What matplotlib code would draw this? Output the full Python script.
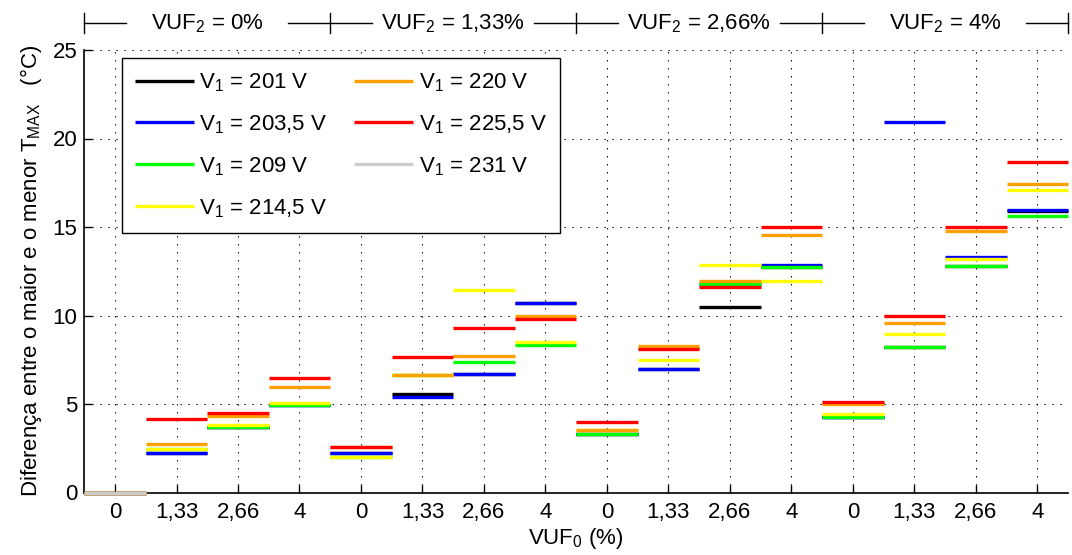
"""Diferença entre o maior e o menor T_MAX para cada combinação de VUF2 e VUF0."""
import matplotlib

matplotlib.use("Agg")
import numpy as np
from matplotlib import pyplot as plt
from matplotlib import transforms

plt.rcParams["font.family"] = ["Liberation Sans", "DejaVu Sans"]
plt.rcParams["mathtext.fontset"] = "custom"
plt.rcParams["mathtext.rm"] = "Liberation Sans"
plt.rcParams["mathtext.it"] = "Liberation Sans:italic"
plt.rcParams["mathtext.bf"] = "Liberation Sans:bold"

# x positions: 4 groups of VUF2, each with 4 values of VUF0
vuf0_labels = ["0", "1,33", "2,66", "4"] * 4
vuf2_labels = ["0%", "1,33%", "2,66%", "4%"]

nan = np.nan
v201 = [0, 2.23, 3.70, 4.95, 2.23, 5.56, 6.71, 10.71, 3.32, 6.96, 10.46, 12.76, 4.25, 8.22, 12.80, 15.88]
v203 = [0, 2.23, 3.70, 4.95, 2.23, 5.41, 6.71, 10.71, 3.32, 6.96, 11.76, 12.86, 4.25, 20.93, 13.29, 15.96]
v209 = [0, 2.47, 3.70, 4.95, 1.99, 6.64, 7.39, 8.32, 3.32, 8.19, 11.76, 12.76, 4.25, 8.22, 12.80, 15.60]
v214 = [0, 2.47, 3.81, 5.05, 1.99, 6.64, 11.46, 8.49, 3.55, 7.47, 12.87, 11.96, 4.42, 8.97, 13.18, 17.11]
v220 = [0, 2.74, 4.34, 5.98, 2.59, 6.64, 7.73, 9.99, 3.55, 8.30, 11.97, 14.55, 4.98, 9.56, 14.77, 17.45]
v225 = [0, 4.15, 4.47, 6.47, 2.59, 7.64, 9.31, 9.80, 3.98, 8.08, 11.63, 15.02, 5.13, 9.97, 15.02, 18.69]
v231 = [0, nan, nan, nan, nan, nan, nan, nan, nan, nan, nan, nan, nan, nan, nan, nan]

series = [v201, v203, v209, v214, v220, v225, v231]
labels = ["V$_1$ = 201 V", "V$_1$ = 203,5 V", "V$_1$ = 209 V", "V$_1$ = 214,5 V",
          "V$_1$ = 220 V", "V$_1$ = 225,5 V", "V$_1$ = 231 V"]
colors = ["black", "#0000ff", "#00ff00", "#ffff00", "#ffa000", "#ff0000", "#cccccc"]

fig = plt.figure(figsize=(10.72, 5.55), dpi=100)
W, H = 1072, 555
ax = fig.add_axes([84.3 / W, 1 - 492.5 / H, (1068 - 84.3) / W, 442.5 / H])

x = np.arange(len(vuf0_labels))
for vals, lab, col in zip(series, labels, colors):
    vals = np.array(vals, dtype=float)
    ax.hlines(vals, x - 0.5, x + 0.5, colors=col, linewidth=2.4, label=lab,
              zorder=3, clip_on=False)

ax.set_xlim(-0.5, 15.5)
ax.set_ylim(0, 25)
ax.set_xticks(x)
ax.set_xticklabels(vuf0_labels)
ax.set_yticks(np.arange(0, 26, 5))
ax.tick_params(direction="in", length=6, width=1, labelsize=16, color="black")
ax.tick_params(axis="x", pad=7)
ax.tick_params(axis="y", pad=5)
ax.grid(True, color="black", linestyle=(0, (1.2, 6)), linewidth=0.8)
ax.set_axisbelow(True)
for side in ["top", "right"]:
    ax.spines[side].set_visible(False)
for side in ["left", "bottom"]:
    ax.spines[side].set_linewidth(1.2)

ax.set_xlabel("VUF$_0$ (%)", fontsize=16, labelpad=2)
ax.set_ylabel("Diferença entre o maior e o menor T$_{\\mathrm{MAX}}$   (°C)",
              fontsize=16, labelpad=6)

# header with VUF2 groups above the axes
trans = transforms.blended_transform_factory(ax.transData, ax.transAxes)
y_line = 1 + 27 / 442.5
seg = 0.68
for g, lab in enumerate(vuf2_labels):
    b = -0.5 + 4 * g
    ax.plot([b, b + seg], [y_line, y_line], color="black", lw=1, transform=trans, clip_on=False)
    ax.plot([b + 4 - seg, b + 4], [y_line, y_line], color="black", lw=1, transform=trans, clip_on=False)
    ax.text(b + 2, 1 + 20.7 / 442.5, "VUF$_2$ = " + lab, transform=trans, ha="center",
            va="baseline", fontsize=16)
for g in range(5):
    b = -0.5 + 4 * g
    ax.plot([b, b], [1 + 17 / 442.5, 1 + 37 / 442.5], color="black", lw=1,
            transform=trans, clip_on=False)

leg = ax.legend(ncol=2, loc="upper left", bbox_to_anchor=(0.038, 0.982), borderaxespad=0,
                fontsize=16, handlelength=2.65, handletextpad=0.25, columnspacing=1.2,
                labelspacing=0.87, borderpad=0.6, fancybox=False, framealpha=1,
                edgecolor="black")
leg.get_frame().set_linewidth(1)
leg.set_zorder(5)

fig.savefig("out.png", dpi=100)
